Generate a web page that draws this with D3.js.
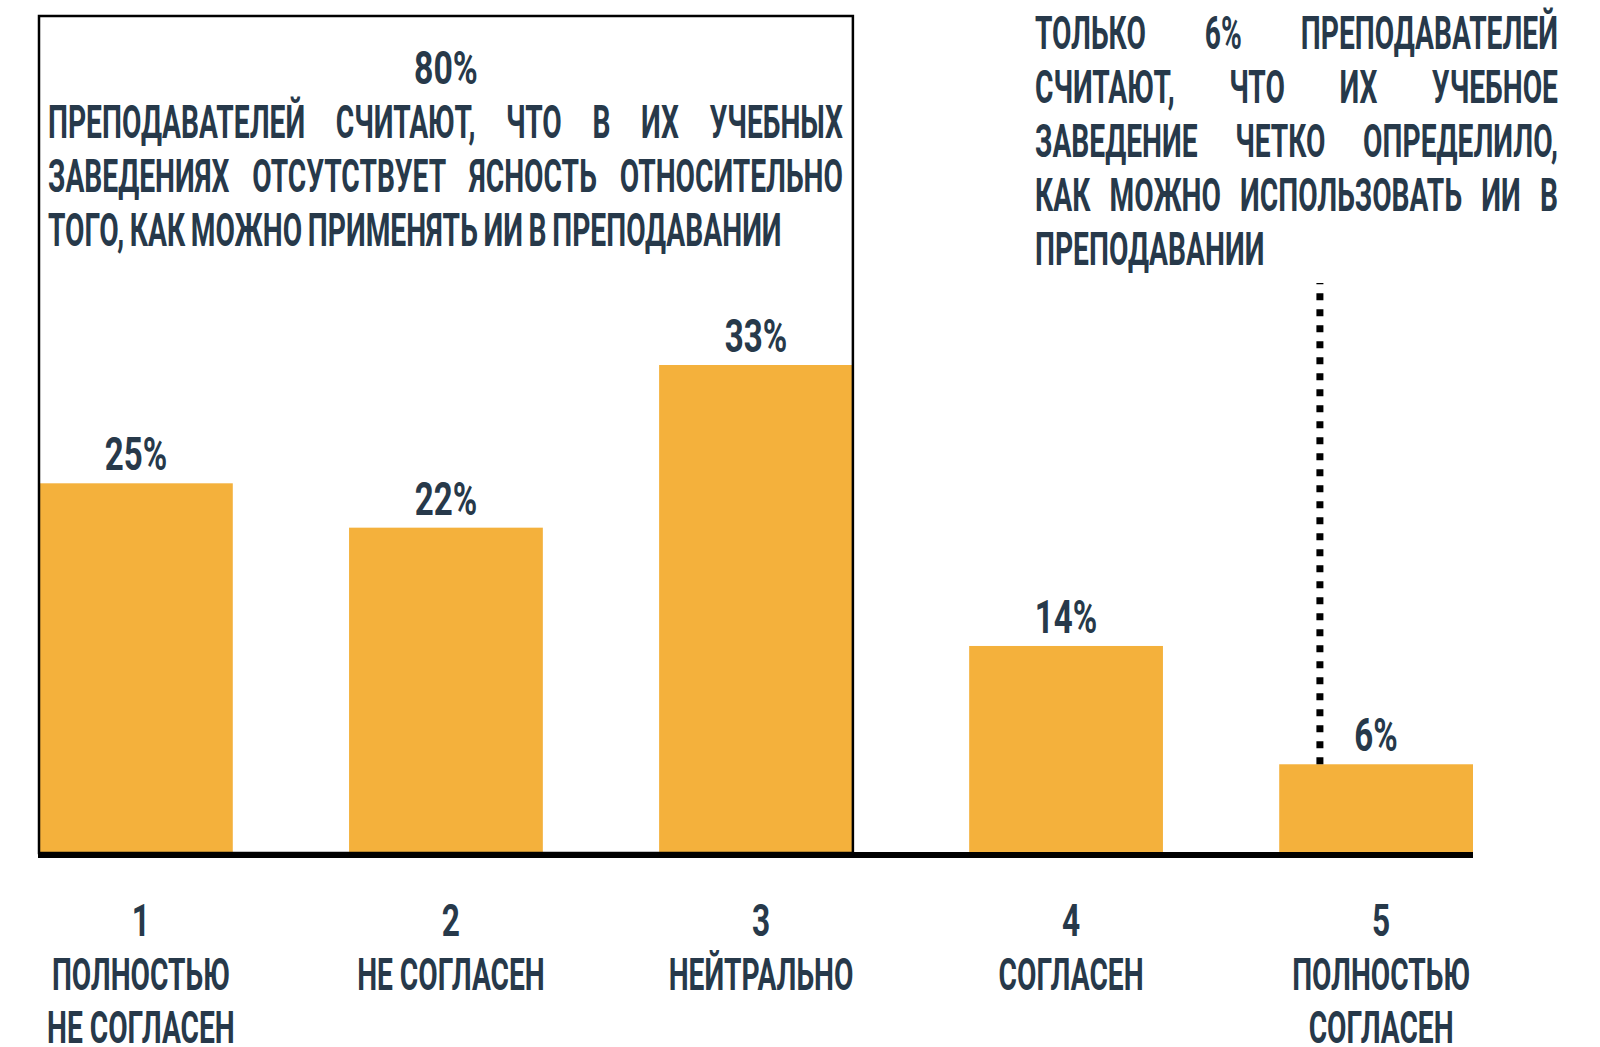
<!DOCTYPE html>
<html lang="ru">
<head>
<meta charset="UTF-8">
<title>Ясность в применении ИИ в преподавании</title>
<script src="https://cdnjs.cloudflare.com/ajax/libs/d3/7.8.5/d3.min.js"></script>
<style>
    body { margin: 0; background: #ffffff; }
    svg { display: block; }
    text { font-family: Roboto, "Liberation Sans", sans-serif; font-weight: 700; fill: #27394a; }
</style>
</head>
<body>
<svg width="1600" height="1047"></svg>
<script>
    // данные
    const scores = ["1", "2", "3", "4", "5"];
    const answers = [["ПОЛНОСТЬЮ", "НЕ СОГЛАСЕН"], ["НЕ СОГЛАСЕН"], ["НЕЙТРАЛЬНО"], ["СОГЛАСЕН"], ["ПОЛНОСТЬЮ", "СОГЛАСЕН"]];
    const shares = [25, 22, 33, 14, 6];
    const leftNote = [
        "ПРЕПОДАВАТЕЛЕЙ СЧИТАЮТ, ЧТО В ИХ УЧЕБНЫХ",
        "ЗАВЕДЕНИЯХ ОТСУТСТВУЕТ ЯСНОСТЬ ОТНОСИТЕЛЬНО",
        "ТОГО, КАК МОЖНО ПРИМЕНЯТЬ ИИ В ПРЕПОДАВАНИИ"
    ];
    const leftShare = "80%";
    const rightNote = [
        "ТОЛЬКО 6% ПРЕПОДАВАТЕЛЕЙ",
        "СЧИТАЮТ, ЧТО ИХ УЧЕБНОЕ",
        "ЗАВЕДЕНИЕ ЧЕТКО ОПРЕДЕЛИЛО,",
        "КАК МОЖНО ИСПОЛЬЗОВАТЬ ИИ В",
        "ПРЕПОДАВАНИИ"
    ];

    const svg = d3.select("svg");
    const base = 853;
    const sxWord = 0.6, sxCat = 0.64, sxNum = 0.72;

    const x = d3.scaleBand().domain(scores).range([39, 1473]).paddingInner(0.375).paddingOuter(0);
    const y = d3.scaleLinear().domain([0, d3.max(shares)]).range([base, 365]);
    const bw = x.bandwidth();

    // текст, сжатый по горизонтали (замена узкого шрифта)
    function squeezed(g, str, cx, cy, size, sx, anchor) {
        return g.append("text")
            .attr("font-size", size)
            .attr("text-anchor", anchor || "middle")
            .attr("transform", `translate(${cx},${cy}) scale(${sx},1)`)
            .text(str);
    }

    function textLine(g, str, x0, x1, cy, size, sx, justify) {
        const words = str.split(" ");
        const nodes = words.map(w => g.append("text").attr("font-size", size).text(w));
        const widths = nodes.map(n => n.node().getComputedTextLength() * sx);
        const gap = justify && words.length > 1
            ? (x1 - x0 - d3.sum(widths)) / (words.length - 1)
            : size * 0.12;
        let cx = x0;
        nodes.forEach((n, i) => {
            n.attr("transform", `translate(${cx},${cy}) scale(${sx},1)`);
            cx += widths[i] + gap;
        });
    }

    // столбцы
    svg.append("g").selectAll("rect")
        .data(shares)
        .join("rect")
        .attr("x", (d, i) => x(scores[i]))
        .attr("y", d => y(d))
        .attr("width", bw)
        .attr("height", d => base - y(d))
        .attr("fill", "#f4b13c");

    // ось
    svg.append("line")
        .attr("x1", 38).attr("x2", 1473)
        .attr("y1", base + 2).attr("y2", base + 2)
        .attr("stroke", "#000").attr("stroke-width", 6);

    // рамка вокруг 1–3
    const boxL = x("1"), boxR = x("3") + bw;
    svg.append("rect")
        .attr("x", boxL).attr("y", 16)
        .attr("width", boxR - boxL).attr("height", base - 16)
        .attr("fill", "none").attr("stroke", "#000").attr("stroke-width", 2.5);

    // подписи значений
    const vals = svg.append("g");
    shares.forEach((d, i) => squeezed(vals, d + "%", x(scores[i]) + bw / 2, y(d) - 13, 46, sxNum));

    // подписи категорий
    const cats = svg.append("g");
    scores.forEach((s, i) => {
        const cx = x(s) + bw / 2 + 5;
        squeezed(cats, s, cx, 936, 44, sxNum);
        answers[i].forEach((t, j) => squeezed(cats, t, cx, 990 + j * 53, 44, sxCat));
    });

    // аннотация слева
    const left = svg.append("g");
    squeezed(left, leftShare, (boxL + boxR) / 2, 84, 47, sxNum);
    leftNote.forEach((t, i) => textLine(left, t, 48, 843, 138 + i * 54, 47, sxWord, i < leftNote.length - 1));

    // аннотация справа
    const right = svg.append("g");
    rightNote.forEach((t, i) => textLine(right, t, 1035, 1558, 49 + i * 54, 47, sxWord, i < rightNote.length - 1));

    // пунктир к столбцу 5
    const dx = x("5") + bw * 0.21;
    svg.append("line")
        .attr("x1", dx).attr("x2", dx)
        .attr("y1", y(shares[4])).attr("y2", 283)
        .attr("stroke", "#000").attr("stroke-width", 7)
        .attr("stroke-dasharray", "7 9");
</script>
</body>
</html>
